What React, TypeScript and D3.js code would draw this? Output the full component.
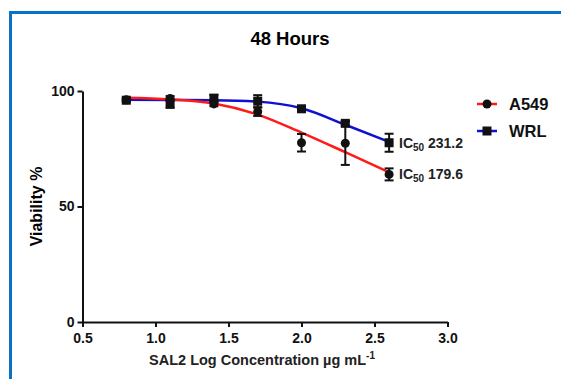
import { useEffect, useRef } from 'react';
import * as d3 from 'd3';

const doses = [0.8, 1.1, 1.4, 1.7, 2.0, 2.3, 2.6];
const a549Mean = [96.2, 96.8, 94.4, 91.0, 77.6, 77.4, 63.9];
const a549Err = [0.6, 1.0, 1.0, 1.8, 3.8, 9.4, 2.6];
const wrlMean = [96.0, 94.5, 96.8, 95.6, 92.3, 86.0, 77.6];
const wrlErr = [0.6, 1.8, 1.6, 2.6, 0.8, 1.0, 3.9];

// fitted curves
const fitX = [0.8, 1.1, 1.4, 1.7, 2.0, 2.3, 2.6];
const a549Fit = [97.1, 96.4, 94.6, 89.8, 82.0, 73.5, 64.8];
const wrlFit = [96.2, 96.1, 96.0, 95.4, 92.5, 85.4, 78.0];

const xTicks = [0.5, 1.0, 1.5, 2.0, 2.5, 3.0];
const yTicks = [0, 50, 100];
const ic50 = [
  { name: 'WRL', value: '231.2' },
  { name: 'A549', value: '179.6' },
];

const W = 561;
const H = 379;
const FONT = 'Liberation Sans, Arial, sans-serif';

export default function App() {
  const svgRef = useRef<SVGSVGElement>(null);

  useEffect(() => {
    if (!svgRef.current) return;
    const svg = d3.select(svgRef.current);
    svg.selectAll('*').remove();

    svg.append('rect').attr('width', W).attr('height', H).attr('fill', '#fff');
    // blue frame, runs off the right and bottom edges
    svg
      .append('rect')
      .attr('x', 10.5)
      .attr('y', 12.5)
      .attr('width', 700)
      .attr('height', 500)
      .attr('fill', 'none')
      .attr('stroke', '#0a72c4')
      .attr('stroke-width', 3);

    const x = d3.scaleLinear().domain([0.5, 3.0]).range([82.5, 447.5]);
    const y = d3.scaleLinear().domain([0, 100]).range([322, 91]);

    svg
      .append('text')
      .attr('x', 290)
      .attr('y', 45)
      .attr('text-anchor', 'middle')
      .attr('font-family', FONT)
      .attr('font-size', 18.5)
      .attr('font-weight', 'bold')
      .text('48 Hours');

    // axes
    const xAxis = svg
      .append('g')
      .attr('transform', `translate(0,${y(0)})`)
      .call(d3.axisBottom(x).tickValues(xTicks).tickFormat(d3.format('.1f')).tickSize(5).tickSizeOuter(0));
    xAxis.select('.domain').attr('stroke', '#111').attr('stroke-width', 2);
    xAxis.selectAll('.tick line').attr('stroke', '#111').attr('stroke-width', 2);
    xAxis
      .selectAll('text')
      .attr('font-family', FONT)
      .attr('font-size', 14)
      .attr('font-weight', 'bold')
      .attr('fill', '#111')
      .attr('y', 0)
      .attr('dy', 20.5);

    const yAxis = svg
      .append('g')
      .attr('transform', `translate(${x(0.5)},0)`)
      .call(d3.axisLeft(y).tickValues(yTicks).tickSize(5).tickSizeOuter(0));
    yAxis.select('.domain').attr('stroke', '#111').attr('stroke-width', 2);
    yAxis.selectAll('.tick line').attr('stroke', '#111').attr('stroke-width', 2);
    yAxis
      .selectAll('text')
      .attr('font-family', FONT)
      .attr('font-size', 14)
      .attr('font-weight', 'bold')
      .attr('fill', '#111')
      .attr('x', -8);

    svg
      .append('text')
      .attr('transform', `translate(42, ${y(50)}) rotate(-90)`)
      .attr('text-anchor', 'middle')
      .attr('font-family', FONT)
      .attr('font-size', 16)
      .attr('font-weight', 'bold')
      .text('Viability %');

    const xl = svg
      .append('text')
      .attr('x', 262)
      .attr('y', 365)
      .attr('text-anchor', 'middle')
      .attr('font-family', FONT)
      .attr('font-size', 14.5)
      .attr('font-weight', 'bold')
      .attr('fill', '#222');
    xl.append('tspan').text('SAL2 Log Concentration \u00b5g mL');
    xl.append('tspan').attr('font-size', 10).attr('dy', -6).text('-1');

    // fitted curves
    const line = d3
      .line<number>()
      .x((_, i) => x(fitX[i]))
      .y((d) => y(d))
      .curve(d3.curveMonotoneX);
    svg.append('path').attr('d', line(wrlFit)).attr('fill', 'none').attr('stroke', '#1010d0').attr('stroke-width', 2.5);
    svg.append('path').attr('d', line(a549Fit)).attr('fill', 'none').attr('stroke', '#ff1a1a').attr('stroke-width', 2.5);

    // error bars
    const drawErr = (means: number[], errs: number[]) => {
      doses.forEach((d, i) => {
        const cx = x(d);
        const y1 = y(means[i] + errs[i]);
        const y2 = y(means[i] - errs[i]);
        const g = svg.append('g').attr('stroke', '#111').attr('stroke-width', 2);
        g.append('line').attr('x1', cx).attr('x2', cx).attr('y1', y1).attr('y2', y2);
        g.append('line').attr('x1', cx - 4.5).attr('x2', cx + 4.5).attr('y1', y1).attr('y2', y1);
        g.append('line').attr('x1', cx - 4.5).attr('x2', cx + 4.5).attr('y1', y2).attr('y2', y2);
      });
    };
    drawErr(wrlMean, wrlErr);
    drawErr(a549Mean, a549Err);

    svg
      .selectAll('.sq')
      .data(wrlMean)
      .enter()
      .append('rect')
      .attr('x', (_, i) => x(doses[i]) - 4.5)
      .attr('y', (d) => y(d) - 4.5)
      .attr('width', 9)
      .attr('height', 9)
      .attr('fill', '#111');

    svg
      .selectAll('.dot')
      .data(a549Mean)
      .enter()
      .append('circle')
      .attr('cx', (_, i) => x(doses[i]))
      .attr('cy', (d) => y(d))
      .attr('r', 4.5)
      .attr('fill', '#111');

    // IC50 labels
    ic50.forEach((c) => {
      const src = c.name === 'WRL' ? wrlMean : a549Mean;
      const t = svg
        .append('text')
        .attr('x', 399)
        .attr('y', y(src[src.length - 1]) + 5)
        .attr('font-family', FONT)
        .attr('font-size', 14)
        .attr('font-weight', 'bold')
        .attr('fill', '#222');
      t.append('tspan').text('IC');
      t.append('tspan').attr('font-size', 10).attr('dy', 3).text('50');
      t.append('tspan').attr('dy', -3).text(` ${c.value}`);
    });

    // legend
    const legend = [
      { label: 'A549', color: '#ff1a1a', shape: 'circle' },
      { label: 'WRL', color: '#1010d0', shape: 'square' },
    ];
    legend.forEach((l, i) => {
      const ly = 104 + i * 27;
      svg.append('line').attr('x1', 477).attr('x2', 497).attr('y1', ly).attr('y2', ly).attr('stroke', l.color).attr('stroke-width', 2.5);
      if (l.shape === 'circle') {
        svg.append('circle').attr('cx', 487).attr('cy', ly).attr('r', 4.5).attr('fill', '#111');
      } else {
        svg.append('rect').attr('x', 482.5).attr('y', ly - 4.5).attr('width', 9).attr('height', 9).attr('fill', '#111');
      }
      svg
        .append('text')
        .attr('x', 509)
        .attr('y', ly + 6)
        .attr('font-family', FONT)
        .attr('font-size', 16.5)
        .attr('font-weight', 'bold')
        .attr('fill', '#111')
        .text(l.label);
    });
  }, []);

  return (
    <div style={{ position: 'fixed', left: 0, top: 0 }}>
      <svg ref={svgRef} width={W} height={H} style={{ display: 'block' }} />
    </div>
  );
}
